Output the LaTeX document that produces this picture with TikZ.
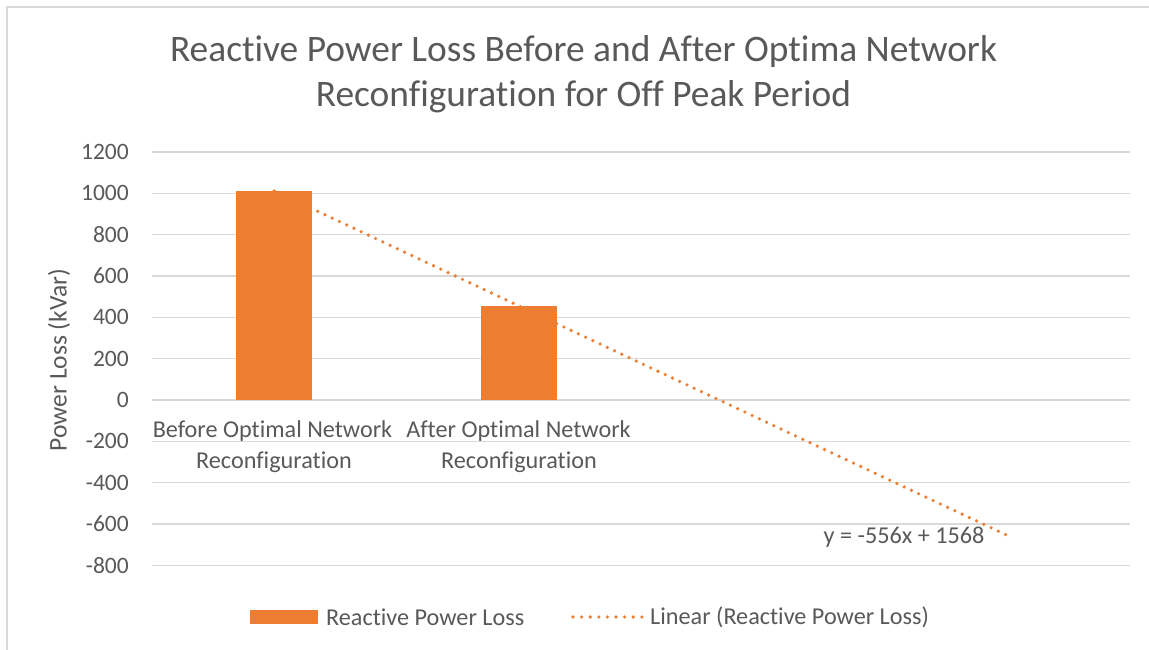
\documentclass[tikz,border=0pt]{standalone}
\usepackage{fontspec}
\setmainfont{Carlito}[Ligatures=NoCommon]
\definecolor{txtgray}{HTML}{595959}
\definecolor{gridgray}{HTML}{D9D9D9}
\definecolor{barorange}{HTML}{ED7D31}
\begin{document}
\begin{tikzpicture}[x=1pt,y=-1pt,
  gridline/.style={draw=gridgray,line width=1.5pt},
  frameline/.style={draw=gridgray,line width=1.5pt},
  ticklbl/.style={text=txtgray,font=\fontsize{23.5}{27}\selectfont,anchor=east,inner sep=0pt},
  catlbl/.style={text=txtgray,font=\fontsize{24.2}{30}\selectfont,inner sep=0pt},
  titlelbl/.style={text=txtgray,font=\fontsize{37.4}{43}\selectfont,inner sep=0pt},
  barbox/.style={fill=barorange,draw=none},
  trend/.style={draw=barorange,line width=3.6pt,line cap=round,dash pattern=on 0pt off 8pt},
]
\useasboundingbox (0,0) rectangle (1149,650);
\fill[white] (0,0) rectangle (1149,650);
% frame
\coordinate (frTL) at (7,7);
\coordinate (frTR) at (1149,7);
\coordinate (frBL) at (7,650);
\draw[frameline] (frBL) -- (frTL) -- (frTR);
% title
\node[titlelbl] (t1) at (583.5,52) {Reactive Power Loss Before and After Optima Network};
\node[titlelbl] (t2) at (583.5,97) {Reconfiguration for Off Peak Period};
% gridlines and tick labels
\foreach \v/\yy in {1200/152,1000/193.33,800/234.67,600/276,400/317.33,200/358.67,0/400,-200/441.33,-400/482.67,-600/524,-800/565.33}{
  \coordinate (gl\v) at (152,\yy);
  \coordinate (gr\v) at (1130,\yy);
  \draw[gridline] (gl\v) -- (gr\v);
  \node[ticklbl] (tk\v) at (129,\yy) {\v};
}
% axis title
\node[text=txtgray,font=\fontsize{25.5}{27}\selectfont,rotate=90,inner sep=0pt] (ytitle) at (59,360) {Power Loss (kVar)};
% bars
\path[barbox] (236,400) rectangle (312,190.9);
\path[barbox] (481,400) rectangle (557,305.8);
% category labels
\node[catlbl] (c1a) at (272.5,431) {Before Optimal Network};
\node[catlbl] (c1b) at (274,462) {Reconfiguration};
\node[catlbl] (c2a) at (518.5,431) {After Optimal Network};
\node[catlbl] (c2b) at (519,462) {Reconfiguration};
% trendline
\coordinate (trA) at (274.25,190.9);
\coordinate (trB) at (1007.75,535.6);
\draw[trend] (trA) -- (trB);
\node[catlbl] (eq) at (904,537) {y = -556x + 1568};
% legend
\path[barbox] (250,610) rectangle (318,624);
\node[catlbl,anchor=west] (lg1) at (326,617) {Reactive Power Loss};
\coordinate (ldA) at (573,617);
\coordinate (ldB) at (642,617);
\draw[trend,dash pattern=on 0pt off 8.6pt] (ldA) -- (ldB);
\node[catlbl,anchor=west] (lg2) at (650,617) {Linear (Reactive Power Loss)};
\end{tikzpicture}
\end{document}
